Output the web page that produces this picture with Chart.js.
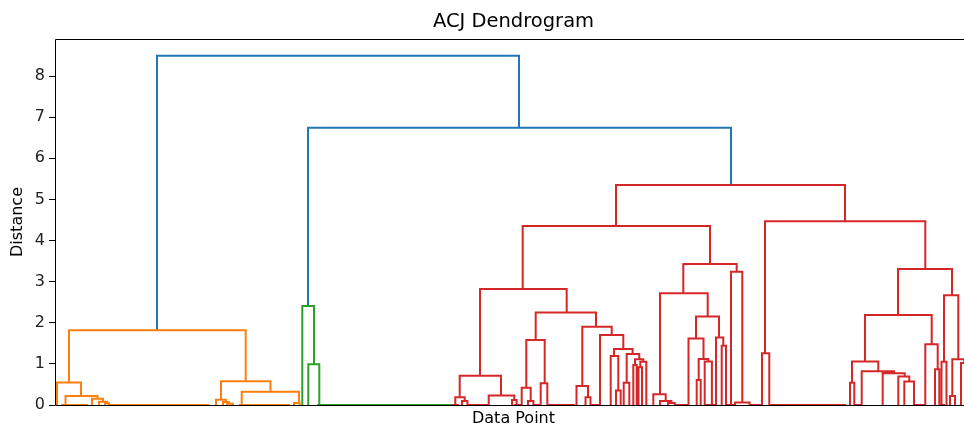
<!DOCTYPE html>
<html lang="en">
<head>
  <meta charset="UTF-8" />
  <title>ACJ Dendrogram</title>
  <script src="https://cdn.jsdelivr.net/npm/chart.js"></script>
  <style>
    html, body {
      margin: 0;
      padding: 0;
      background: #fff;
      overflow: hidden;
    }
    #dendro {
      display: block;
    }
  </style>
</head>
<body>
  <canvas id="dendro" width="975" height="427"></canvas>

  <script>
    // each link: [xLeft, xRight, yLeft, yTop, yRight]  (x = leaf position, y = merge distance)
    const blueLinks = [
      [102, 464, 1.82, 8.49, 6.74],
      [253, 676, 2.41, 6.74, 5.35]
    ];

    const orangeLinks = [
      [14, 190.7, 0.55, 1.82, 0.58],
      [2, 26, 0, 0.55, 0.22],
      [10.5, 42.5, 0, 0.22, 0.15],
      [37, 48, 0, 0.15, 0.08],
      [44, 52, 0, 0.08, 0.04],
      [50, 54, 0, 0.04, 0],
      [6, 33, 0, 0, 0],
      [54, 154, 0, 0, 0],
      [166, 215.5, 0.13, 0.58, 0.32],
      [161, 171, 0, 0.13, 0.07],
      [168, 174, 0, 0.07, 0.03],
      [172, 178, 0, 0.03, 0],
      [186.7, 244, 0, 0.32, 0.05],
      [239, 244.5, 0, 0.05, 0],
      [184, 235, 0, 0, 0]
    ];

    const greenLinks = [
      [247.3, 259, 0, 2.41, 0.99],
      [253.3, 264.3, 0, 0.99, 0],
      [262, 397, 0, 0, 0]
    ];

    const redLinks = [
      [561, 790, 4.35, 5.35, 4.47],
      [467.7, 655, 2.82, 4.35, 3.43],
      [425, 511.7, 0.71, 2.82, 2.25],
      [404.7, 446, 0.19, 0.71, 0.23],
      [400.3, 409.7, 0, 0.19, 0.1],
      [407, 412.4, 0, 0.1, 0],
      [433.7, 459.3, 0, 0.23, 0.12],
      [457, 461.6, 0, 0.12, 0],
      [480.7, 541, 1.58, 2.25, 1.9],
      [471.3, 489.7, 0.42, 1.58, 0.53],
      [466.7, 475.7, 0, 0.42, 0.1],
      [473, 478.4, 0, 0.1, 0],
      [485.7, 492.3, 0, 0.53, 0],
      [527.3, 556.7, 0.46, 1.9, 1.7],
      [521.5, 533, 0, 0.46, 0.19],
      [530.5, 535.5, 0, 0.19, 0],
      [545, 568.3, 0, 1.7, 1.36],
      [559, 577.6, 1.19, 1.36, 1.24],
      [555.7, 563.3, 0, 1.19, 0.35],
      [561, 565.7, 0, 0.35, 0],
      [571.7, 584.3, 0.54, 1.24, 1.11],
      [568.7, 574.3, 0, 0.54, 0],
      [580, 588.3, 0.97, 1.11, 1.05],
      [578.3, 581.7, 0, 0.97, 0],
      [585.3, 591.3, 0.92, 1.05, 0],
      [583.5, 587, 0, 0.92, 0],
      [628.3, 681.7, 2.72, 3.43, 3.24],
      [605, 652.7, 0.26, 2.72, 2.15],
      [598.3, 610.7, 0, 0.26, 0.1],
      [605, 616.4, 0, 0.1, 0.05],
      [613, 619.8, 0, 0.05, 0],
      [641, 664, 1.62, 2.15, 1.64],
      [633.5, 648.5, 0, 1.62, 1.12],
      [643.7, 653.3, 0.61, 1.12, 1.06],
      [641.7, 645.7, 0, 0.61, 0],
      [649.7, 656.9, 0, 1.06, 0],
      [661, 668.3, 0, 1.64, 1.44],
      [666.7, 671, 0, 1.44, 0],
      [676, 687.3, 0, 3.24, 0.06],
      [680, 694.6, 0, 0.06, 0],
      [710, 870.3, 1.26, 4.47, 3.31],
      [707, 714.3, 0, 1.26, 0],
      [843, 897, 2.19, 3.31, 2.67],
      [810, 876.7, 1.06, 2.19, 1.48],
      [797, 823.3, 0.54, 1.06, 0.82],
      [795, 799.3, 0, 0.54, 0],
      [806.7, 839, 0, 0.82, 0.77],
      [827.7, 849.7, 0, 0.77, 0.69],
      [843.3, 854.3, 0, 0.69, 0.57],
      [849.3, 859, 0, 0.57, 0],
      [870.3, 882.7, 0, 1.48, 0.87],
      [880, 884.3, 0, 0.87, 0],
      [889, 903.3, 1.05, 2.67, 1.11],
      [886.5, 891.5, 0, 1.05, 0],
      [897.3, 909.3, 0.22, 1.11, 1.02],
      [895, 900, 0, 0.22, 0],
      [906, 912.6, 0, 1.02, 0.5],
      [910, 915, 0, 0.5, 0],
      // zero-distance merges along the baseline
      [397, 404, 0, 0, 0],
      [412, 434, 0, 0, 0],
      [459, 467, 0, 0, 0],
      [478, 486, 0, 0, 0],
      [492, 520, 0, 0, 0],
      [536, 545, 0, 0, 0],
      [620, 633, 0, 0, 0],
      [650, 661, 0, 0, 0],
      [672, 680, 0, 0, 0],
      [694, 707, 0, 0, 0],
      [714, 791, 0, 0, 0],
      [800, 807, 0, 0, 0],
      [858, 870, 0, 0, 0],
      [884, 890, 0, 0, 0]
    ];

    const yTickValues = [0, 1, 2, 3, 4, 5, 6, 7, 8];
    const xSpan = 917;
    const yTop = 8.9;

    // turn U-shaped links into one polyline per colour, broken by null points
    function toPoints(links) {
      const pts = [];
      links.forEach(([xl, xr, yl, yt, yr]) => {
        pts.push({ x: xl, y: yl }, { x: xl, y: yt }, { x: xr, y: yt }, { x: xr, y: yr });
        pts.push({ x: xr, y: null });
      });
      return pts;
    }

    function linkSet(links, color) {
      return {
        data: toPoints(links),
        borderColor: color,
        backgroundColor: color,
        borderWidth: 2,
        showLine: true,
        spanGaps: false,
        pointRadius: 0,
        pointHoverRadius: 0,
        tension: 0,
        borderJoinStyle: 'miter'
      };
    }

    // axes frame drawn on top of the links, like matplotlib spines
    const frame = {
      id: 'frame',
      afterDatasetsDraw(chart) {
        const { ctx, chartArea: a } = chart;
        ctx.save();
        ctx.strokeStyle = '#000';
        ctx.lineWidth = 1;
        ctx.beginPath();
        ctx.moveTo(a.left + 0.5, a.bottom + 0.5);
        ctx.lineTo(a.left + 0.5, a.top + 0.5);
        ctx.lineTo(a.right + 0.5, a.top + 0.5);
        ctx.lineTo(a.right + 0.5, a.bottom + 0.5);
        ctx.closePath();
        ctx.stroke();
        ctx.restore();
      }
    };

    Chart.defaults.font.family = "'DejaVu Sans', sans-serif";
    Chart.defaults.color = '#000';

    new Chart(document.getElementById('dendro'), {
      type: 'scatter',
      data: {
        datasets: [
          linkSet(orangeLinks, '#ff7f0e'),
          linkSet(greenLinks, '#2ca02c'),
          linkSet(redLinks, '#d62728'),
          linkSet(blueLinks, '#1f77b4')
        ]
      },
      options: {
        responsive: false,
        animation: false,
        layout: { padding: { left: 0, right: 3, top: 0, bottom: 0 } },
        plugins: {
          legend: { display: false },
          tooltip: { enabled: false },
          title: { display: false }
        },
        scales: {
          x: {
            type: 'linear',
            min: 0,
            max: xSpan,
            grid: { display: false },
            border: { display: false },
            ticks: { display: false },
            title: {
              display: true,
              text: 'Data Point',
              font: { size: 16, lineHeight: 1 },
              padding: { top: 0, bottom: 0 }
            },
            afterFit: s => { s.height = 22; }
          },
          x2: {
            type: 'linear',
            position: 'top',
            min: 0,
            max: xSpan,
            grid: { display: false },
            border: { display: false },
            ticks: { display: false },
            title: {
              display: true,
              text: 'ACJ Dendrogram',
              font: { size: 19.5, lineHeight: 1 },
              padding: { top: 12, bottom: 0 }
            },
            afterFit: s => { s.height = 39; }
          },
          y: {
            type: 'linear',
            min: 0,
            max: yTop,
            afterBuildTicks: s => { s.ticks = yTickValues.map(v => ({ value: v })); },
            grid: {
              drawOnChartArea: false,
              drawTicks: true,
              tickLength: 6,
              tickWidth: 1,
              color: '#000'
            },
            border: { display: false },
            ticks: {
              padding: 4,
              font: { size: 16 },
              color: '#222'
            },
            title: {
              display: true,
              text: 'Distance',
              font: { size: 16, lineHeight: 1 },
              padding: { top: 10, bottom: 0 }
            },
            afterFit: s => { s.width = 55; }
          }
        }
      },
      plugins: [frame]
    });
  </script>
</body>
</html>
